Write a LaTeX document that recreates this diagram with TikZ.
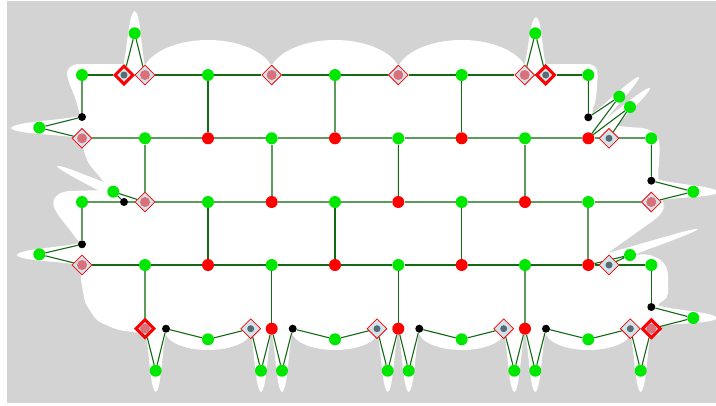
\documentclass[tikz,border=0pt]{standalone}
\usetikzlibrary{shapes.geometric}
\definecolor{bgg}{RGB}{211,211,211}
\definecolor{ngreen}{RGB}{0,232,0}
\definecolor{dkedge}{RGB}{20,105,20}
\definecolor{ltedge}{RGB}{95,155,95}
\definecolor{dfill}{RGB}{208,228,236}
\definecolor{pinkdot}{RGB}{217,112,122}
\definecolor{darkdot}{RGB}{88,108,118}
\pgfdeclarelayer{shape}
\pgfdeclarelayer{edges}
\pgfsetlayers{shape,edges,main}
\newcommand\wspike[5]{%
  \pgfmathsetmacro\spang{atan2(-((#4)-(#2)),(#3)-(#1))}%
  \pgfmathsetmacro\splen{veclen((#3)-(#1),(#4)-(#2))}%
  \fill[white,shift={(#1,#2)},rotate=\spang]
    (0,#5) .. controls ({0.3*\splen},{0.55*#5}) and ({0.95*\splen},{0.55*#5}) .. (\splen,0)
    .. controls ({0.95*\splen},{-0.55*#5}) and ({0.3*\splen},{-0.55*#5}) .. (0,-#5) -- cycle;}
\begin{document}
\begin{tikzpicture}[x=1pt,y=-1pt,
  gn/.style={circle,fill=ngreen,minimum size=12pt,inner sep=0pt},
  rn/.style={circle,fill=red,minimum size=12pt,inner sep=0pt},
  kn/.style={circle,fill=black,minimum size=8pt,inner sep=0pt},
  dm/.style={diamond,draw=red,fill=dfill,line width=0.8pt,minimum size=20pt,inner sep=0pt},
  tdm/.style={diamond,draw=red,fill=dfill,line width=3pt,minimum size=19pt,inner sep=0pt},
  pd/.style={circle,fill=pinkdot,minimum size=10pt,inner sep=0pt},
  dd/.style={circle,fill=darkdot,minimum size=7pt,inner sep=0pt},
  dk/.style={draw=dkedge,line width=1.1pt},
  lt/.style={draw=ltedge,line width=1.8pt}]
\useasboundingbox (0,0) rectangle (716,405);
% ---------- nodes ----------
% row 0
\node[gn] (a0) at (82,75) {};
\node[tdm] (a1) at (124,75) {}; \node[dd] (a1i) at (a1) {};
\node[dm] (a2) at (145,75) {}; \node[pd] (a2i) at (a2) {};
\node[gn] (a3) at (208,75) {};
\node[dm] (a4) at (271.7,75) {}; \node[pd] (a4i) at (a4) {};
\node[gn] (a5) at (335,75) {};
\node[dm] (a6) at (398.3,75) {}; \node[pd] (a6i) at (a6) {};
\node[gn] (a7) at (461.7,75) {};
\node[dm] (a8) at (524.7,75) {}; \node[pd] (a8i) at (a8) {};
\node[tdm] (a9) at (545.7,75) {}; \node[dd] (a9i) at (a9) {};
\node[gn] (a10) at (588.3,75) {};
% row 1
\node[dm] (b0) at (82,138.3) {}; \node[pd] (b0i) at (b0) {};
\node[gn] (b1) at (145,138.3) {};
\node[rn] (b2) at (208,138.3) {};
\node[gn] (b3) at (271.7,138.3) {};
\node[rn] (b4) at (335,138.3) {};
\node[gn] (b5) at (398.3,138.3) {};
\node[rn] (b6) at (461.7,138.3) {};
\node[gn] (b7) at (525,138.3) {};
\node[rn] (b8) at (588.3,138.3) {};
\node[dm] (b9) at (609,138.3) {}; \node[dd] (b9i) at (b9) {};
\node[gn] (b10) at (651.3,138.3) {};
% row 2
\node[gn] (c0) at (82,202) {};
\node[kn] (c1) at (124,202) {};
\node[dm] (c2) at (145,202) {}; \node[pd] (c2i) at (c2) {};
\node[gn] (c3) at (208,202) {};
\node[rn] (c4) at (271.7,202) {};
\node[gn] (c5) at (335,202) {};
\node[rn] (c6) at (398.3,202) {};
\node[gn] (c7) at (461.7,202) {};
\node[rn] (c8) at (525,202) {};
\node[gn] (c9) at (588.3,202) {};
\node[dm] (c10) at (651.3,202) {}; \node[pd] (c10i) at (c10) {};
% row 3
\node[dm] (d0) at (82,265) {}; \node[pd] (d0i) at (d0) {};
\node[gn] (d1) at (145,265) {};
\node[rn] (d2) at (208,265) {};
\node[gn] (d3) at (271.7,265) {};
\node[rn] (d4) at (335,265) {};
\node[gn] (d5) at (398.3,265) {};
\node[rn] (d6) at (461.7,265) {};
\node[gn] (d7) at (525,265) {};
\node[rn] (d8) at (588.3,265) {};
\node[dm] (d9) at (609,265) {}; \node[dd] (d9i) at (d9) {};
\node[gn] (d10) at (651.3,265) {};
% row 4
\node[tdm] (e0) at (145,328.7) {}; \node[pd] (e0i) at (e0) {};
\node[kn] (e1) at (166,328.7) {};
\node[gn] (e2) at (208,339.3) {};
\node[dm] (e3) at (250.7,328.7) {}; \node[dd] (e3i) at (e3) {};
\node[rn] (e4) at (271.7,328.7) {};
\node[kn] (e5) at (292.7,328.7) {};
\node[gn] (e6) at (335,339.3) {};
\node[dm] (e7) at (377,328.7) {}; \node[dd] (e7i) at (e7) {};
\node[rn] (e8) at (398.3,328.7) {};
\node[kn] (e9) at (419.3,328.7) {};
\node[gn] (e10) at (461.7,339.3) {};
\node[dm] (e11) at (503.7,328.7) {}; \node[dd] (e11i) at (e11) {};
\node[rn] (e12) at (525,328.7) {};
\node[kn] (e13) at (546,328.7) {};
\node[gn] (e14) at (588.3,339.3) {};
\node[dm] (e15) at (630.3,328.7) {}; \node[dd] (e15i) at (e15) {};
\node[tdm] (e16) at (651.3,328.7) {}; \node[pd] (e16i) at (e16) {};
% bottom greens
\node[gn] (f0) at (155.7,370.7) {};
\node[gn] (f1) at (261,370.7) {};
\node[gn] (f2) at (282,370.7) {};
\node[gn] (f3) at (387.7,370.7) {};
\node[gn] (f4) at (408.7,370.7) {};
\node[gn] (f5) at (514.3,370.7) {};
\node[gn] (f6) at (535.3,370.7) {};
\node[gn] (f7) at (640.7,370.7) {};
% outer greens and black dots
\node[gn] (t1) at (134.7,33.3) {};
\node[gn] (t2) at (535.3,33.3) {};
\node[gn] (l1) at (39.3,127.7) {};
\node[gn] (l2) at (39.3,254.3) {};
\node[gn] (l3) at (113.3,191.7) {};
\node[gn] (r1) at (619.3,96.7) {};
\node[gn] (r2) at (630,107) {};
\node[gn] (r3) at (693.3,191.7) {};
\node[gn] (r4) at (630,255) {};
\node[gn] (r5) at (693.3,318) {};
\node[kn] (k0) at (82,117) {};
\node[kn] (k1) at (588.3,117.3) {};
\node[kn] (k2) at (651.3,180.7) {};
\node[kn] (k3) at (82,244.3) {};
\node[kn] (k4) at (651.3,307) {};
% ---------- background shape ----------
\begin{pgfonlayer}{shape}
\fill[bgg] (7,1) rectangle (716,403);
\fill[white,rounded corners=5pt] (66,70) -- (74,64) -- (594,64) -- (598,72) -- (596,100) -- (591,114)
  -- (600,124) -- (628,127) -- (645,128) -- (657,134) -- (660,146) -- (658,178) -- (663,203)
  -- (665,209) -- (657,218) -- (602,257) -- (648,254) -- (662,260) -- (668,270) -- (668,298)
  -- (656,305) -- (662,324) -- (660,336) -- (140,333) -- (118,330) -- (97,321) -- (85,303)
  -- (81,280) -- (80,266) -- (82,262) -- (82,246) -- (70,230) -- (58,215) -- (52,204)
  -- (56,195) -- (66,191) -- (110,190) -- (100,177) -- (88,163) -- (83,148) -- (82,135)
  -- (80,115) -- (76,100) -- (68,80) -- cycle;
\foreach \x in {208,335,461.7} {\fill[white] (\x,76) ellipse [x radius=66, y radius=36];}
\foreach \x in {208,335,461.7,588.3} {\fill[white] (\x,331) ellipse [x radius=43, y radius=19];}
\wspike{134}{70}{134.7}{11}{12}
\wspike{535}{70}{536}{17}{12}
\wspike{84}{127}{11}{128}{12}
\wspike{84}{254}{17}{255}{12}
\wspike{122}{196}{57}{166}{7}
\wspike{592}{124}{639}{77}{8}
\wspike{600}{132}{650}{88}{8}
\wspike{656}{190}{718}{192}{11}
\wspike{604}{260}{698}{229}{6}
\wspike{656}{316}{717}{318}{11}
\foreach \x in {155.7,261,282,387.7,408.7,514.3,535.3,640.7} {\wspike{\x}{330}{\x}{392}{11}}
\end{pgfonlayer}
% ---------- edges ----------
\begin{pgfonlayer}{edges}
\path[dk] (a0) -- (a1) -- (a2) -- (a3) -- (a4) -- (a5) -- (a6) -- (a7) -- (a8) -- (a9) -- (a10);
\path[dk] (t1) -- (a1) (t1) -- (a2) (t2) -- (a8) (t2) -- (a9);
\path[lt] (a0) -- (k0);
\path[dk] (k0) -- (l1) -- (b0);
\path[dk] (a10) -- (k1) -- (r1) -- (b8) -- (r2) -- (b9);
\path[dk] (a3) -- (b2) (a7) -- (b6);
\path[lt] (a5) -- (b4);
\path[lt] (b0) -- (b1) -- (b2) -- (b3) -- (b4) -- (b5) -- (b6) -- (b7) -- (b8) -- (b9) -- (b10);
\path[lt] (b1) -- (c2) (b3) -- (c4) (b7) -- (c8);
\path[dk] (b5) -- (c6) (b10) -- (k2) -- (r3) -- (c10);
\path[lt] (c0) -- (c1) -- (c2) -- (c3) -- (c4) -- (c5) -- (c6) -- (c7) -- (c8) -- (c9) -- (c10);
\path[dk] (l3) -- (c1) (l3) -- (c2);
\path[lt] (c0) -- (k3) (c9) -- (d8);
\path[dk] (c3) -- (d2) (c5) -- (d4) (c7) -- (d6);
\path[dk] (k3) -- (l2) -- (d0);
\path[dk] (d0) -- (d1) -- (d2) -- (d3) -- (d4) -- (d5) -- (d6) -- (d7) -- (d8) -- (d9) -- (d10);
\path[dk] (d8) -- (r4) -- (d9);
\path[lt] (d1) -- (e0) (d7) -- (e12);
\path[dk] (d3) -- (e4) (d5) -- (e8) (d10) -- (k4);
\path[dk] (e0) -- (f0) -- (e1) -- (e2) -- (e3) -- (f1) -- (e4) -- (f2) -- (e5) -- (e6) -- (e7)
  -- (f3) -- (e8) -- (f4) -- (e9) -- (e10) -- (e11) -- (f5) -- (e12) -- (f6) -- (e13) -- (e14)
  -- (e15) -- (f7) -- (e16) -- (r5) -- (k4);
\end{pgfonlayer}
\end{tikzpicture}
\end{document}
